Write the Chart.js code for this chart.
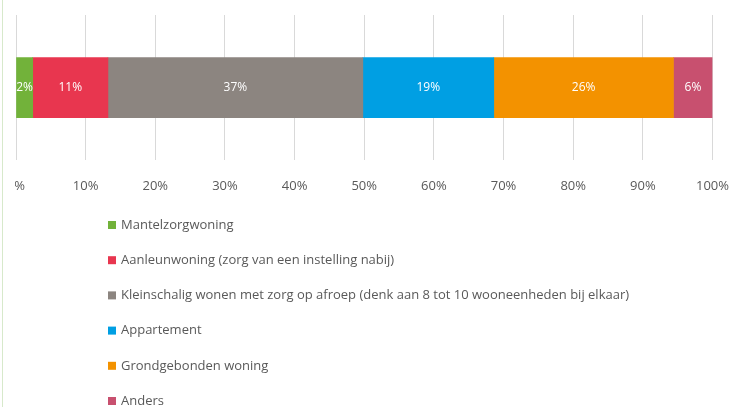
<!DOCTYPE html>
<html>
<head>
<meta charset="utf-8">
<script src="https://cdn.jsdelivr.net/npm/chart.js@4"></script>
<style>
  html, body { margin: 0; padding: 0; background: #fff; }
  #wrap { position: relative; width: 731px; height: 407px; overflow: hidden; }
  #edge { position: absolute; left: 2px; top: 0; width: 1px; height: 407px; background: #d7e9cb; }
  #clip { position: absolute; left: 15px; top: 0; width: 716px; height: 407px; overflow: hidden; }
  #chart { position: absolute; left: -15px; top: 0; }
</style>
</head>
<body>
<div id="wrap">
  <div id="edge"></div>
  <div id="clip"><canvas id="chart" width="731" height="407"></canvas></div>
</div>
<script>
// woonvormen, aandeel in %
const categories = [
    'Mantelzorgwoning',
    'Aanleunwoning (zorg van een instelling nabij)',
    'Kleinschalig wonen met zorg op afroep (denk aan 8 tot 10 wooneenheden bij elkaar)',
    'Appartement',
    'Grondgebonden woning',
    'Anders'
];
const values = [2.4, 10.8, 36.6, 18.8, 25.8, 5.6];
const colors = ['#72b23a', '#e8364f', '#8c8580', '#009fe3', '#f39200', '#c8506f'];
const xTicks = [0, 10, 20, 30, 40, 50, 60, 70, 80, 90, 100];

const FONT = '"Open Sans", Lato, sans-serif';
const TEXT_GRAY = '#595959';

// witte percentages midden in elk segment
const barLabels = {
    id: 'barLabels',
    afterDatasetsDraw(chart) {
        const ctx = chart.ctx;
        ctx.save();
        ctx.font = '12px ' + FONT;
        ctx.fillStyle = '#ffffff';
        ctx.textAlign = 'center';
        ctx.textBaseline = 'middle';
        chart.data.datasets.forEach((ds, i) => {
            const bar = chart.getDatasetMeta(i).data[0];
            const mid = (bar.x + bar.base) / 2;
            ctx.fillText(Math.round(ds.data[0]) + '%', mid, bar.y);
        });
        ctx.restore();
    }
};

// legenda als verticale lijst onder de grafiek
const listLegend = {
    id: 'listLegend',
    afterDraw(chart) {
        const ctx = chart.ctx;
        ctx.save();
        ctx.font = '13px ' + FONT;
        ctx.textBaseline = 'middle';
        ctx.textAlign = 'left';
        chart.data.datasets.forEach((ds, i) => {
            const y = 225 + i * 35.2;
            ctx.fillStyle = ds.backgroundColor;
            ctx.fillRect(108, y - 4, 8, 8);
            ctx.fillStyle = TEXT_GRAY;
            ctx.fillText(ds.label, 121, y);
        });
        ctx.restore();
    }
};

new Chart(document.getElementById('chart').getContext('2d'), {
    type: 'bar',
    data: {
        labels: [''],
        datasets: categories.map((name, i) => ({
            label: name,
            data: [values[i]],
            backgroundColor: colors[i],
            borderWidth: 0,
            barThickness: 60
        }))
    },
    options: {
        indexAxis: 'y',
        responsive: false,
        animation: false,
        layout: { padding: { left: 16, right: 18, top: 15, bottom: 211 } },
        scales: {
            x: {
                stacked: true,
                min: 0,
                max: 100,
                afterBuildTicks: axis => { axis.ticks = xTicks.map(v => ({ value: v })); },
                grid: { color: '#d9d9d9', drawTicks: true, tickLength: 16, tickColor: 'rgba(0,0,0,0)' },
                border: { display: false },
                ticks: {
                    padding: 2,
                    color: TEXT_GRAY,
                    font: { family: FONT, size: 13 },
                    maxRotation: 0,
                    callback: v => v + '%'
                }
            },
            y: {
                display: false,
                stacked: true
            }
        },
        plugins: {
            legend: { display: false },
            tooltip: { enabled: false }
        }
    },
    plugins: [barLabels, listLegend]
});
</script>
</body>
</html>
